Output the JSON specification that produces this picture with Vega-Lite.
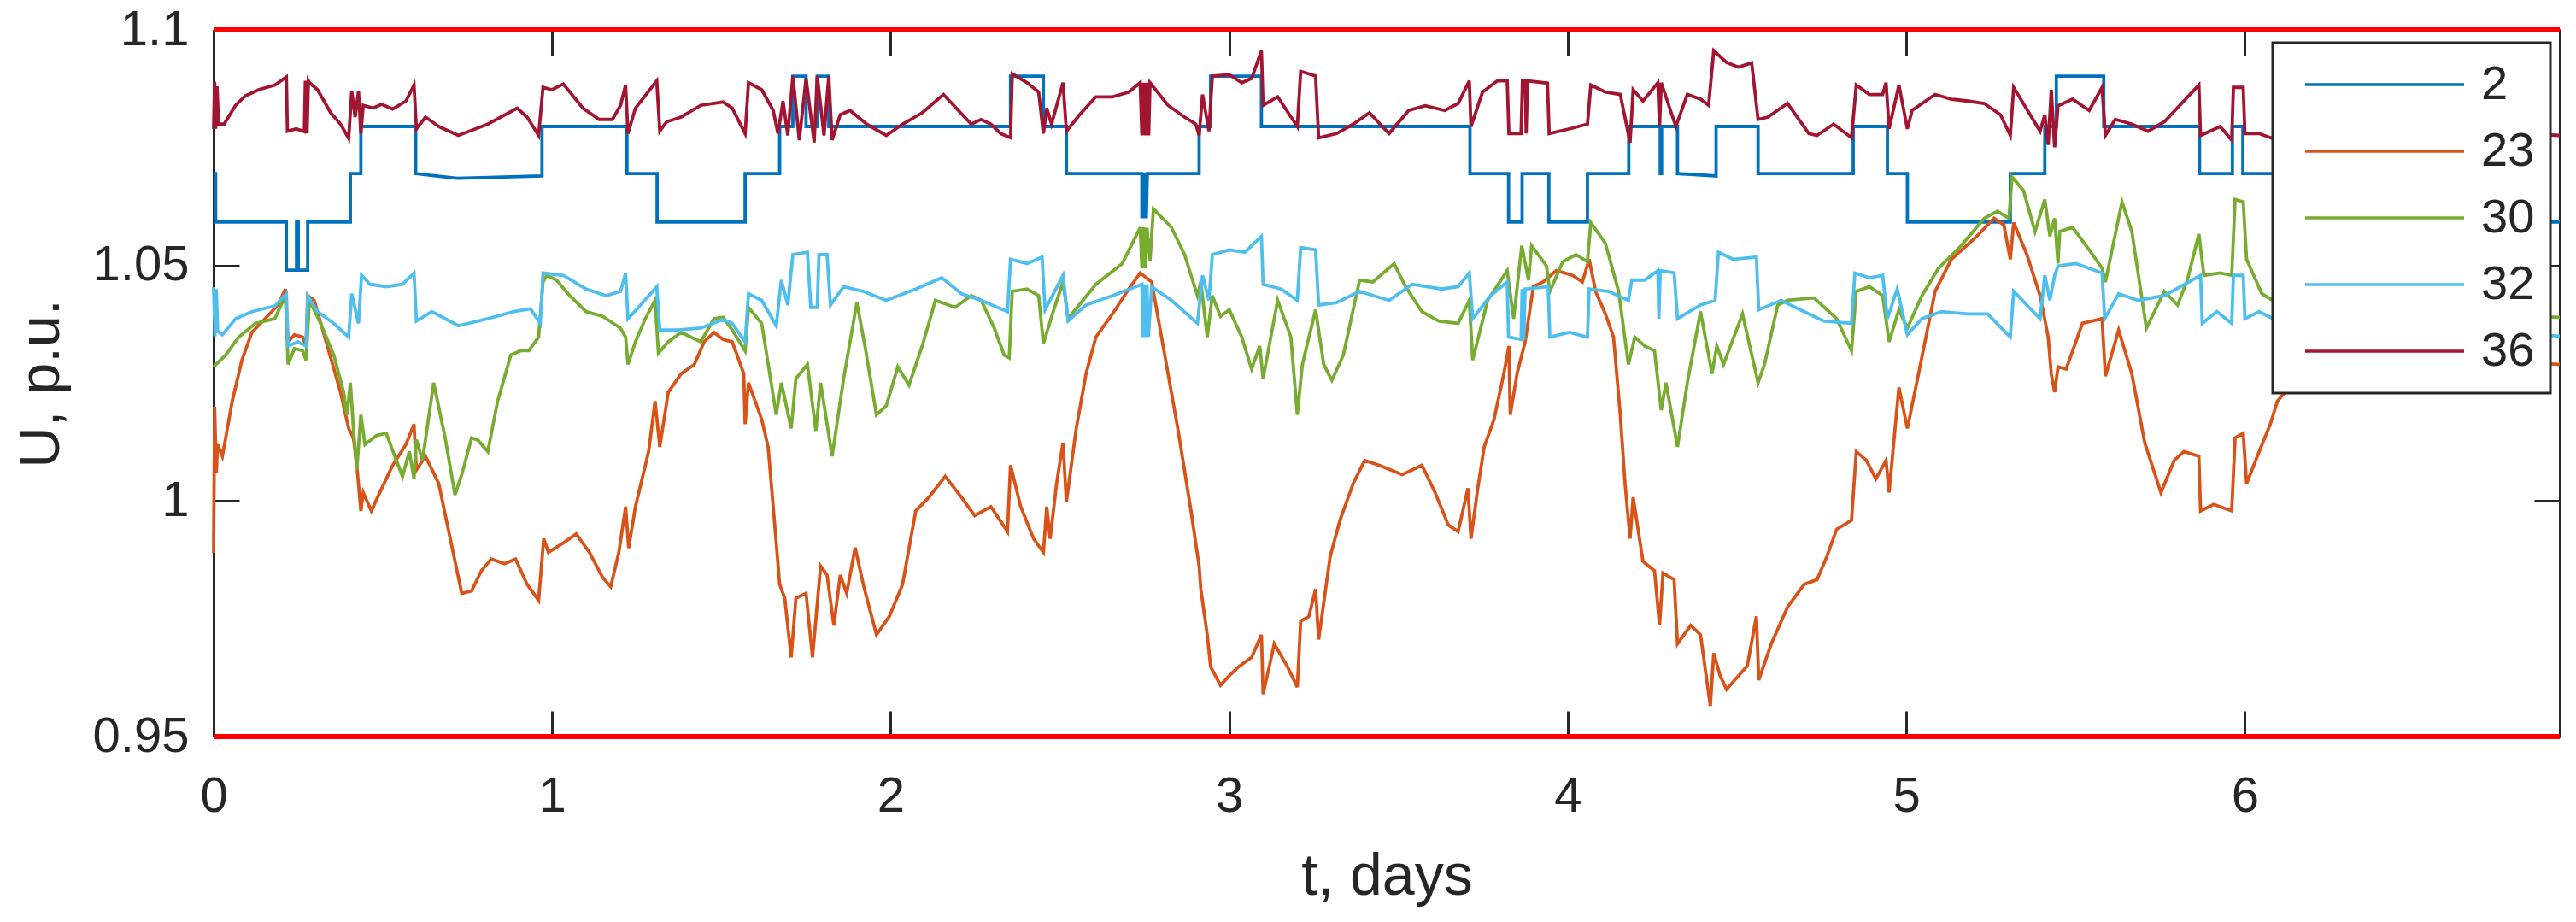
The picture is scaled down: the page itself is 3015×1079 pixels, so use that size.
{
  "$schema": "https://vega.github.io/schema/vega-lite/v6.json",
  "width": 2746,
  "height": 827,
  "autosize": {"type": "none"},
  "padding": {"left": 250, "top": 35, "right": 19, "bottom": 217},
  "background": "white",
  "config": {
    "view": {"stroke": null},
    "font": "Liberation Sans",
    "legend": {"strokeWidth": 3}
  },
  "datasets": {
    "limits": [{"limit": 0.95}, {"limit": 1.1}],
    "voltage": [
      {"s":"2","t":0,"u":1.0695},{"s":"2","t":0.006,"u":1.0695},{"s":"2","t":0.006,"u":1.0592},{"s":"2","t":0.215,"u":1.0592},
      {"s":"2","t":0.215,"u":1.049},{"s":"2","t":0.245,"u":1.049},{"s":"2","t":0.245,"u":1.0592},{"s":"2","t":0.25,"u":1.0592},
      {"s":"2","t":0.25,"u":1.049},{"s":"2","t":0.278,"u":1.049},{"s":"2","t":0.278,"u":1.0592},{"s":"2","t":0.404,"u":1.0592},
      {"s":"2","t":0.404,"u":1.0695},{"s":"2","t":0.435,"u":1.0695},{"s":"2","t":0.435,"u":1.0795},{"s":"2","t":0.597,"u":1.0795},
      {"s":"2","t":0.597,"u":1.0695},{"s":"2","t":0.72,"u":1.0685},{"s":"2","t":0.97,"u":1.069},{"s":"2","t":0.97,"u":1.0795},
      {"s":"2","t":1.221,"u":1.0795},{"s":"2","t":1.221,"u":1.0695},{"s":"2","t":1.31,"u":1.0695},{"s":"2","t":1.31,"u":1.0592},
      {"s":"2","t":1.57,"u":1.0592},{"s":"2","t":1.57,"u":1.0695},{"s":"2","t":1.672,"u":1.0695},{"s":"2","t":1.672,"u":1.0795},
      {"s":"2","t":1.711,"u":1.0795},{"s":"2","t":1.711,"u":1.0902},{"s":"2","t":1.75,"u":1.0902},{"s":"2","t":1.75,"u":1.0795},
      {"s":"2","t":1.783,"u":1.0795},{"s":"2","t":1.783,"u":1.0902},{"s":"2","t":1.817,"u":1.0902},{"s":"2","t":1.817,"u":1.0795},
      {"s":"2","t":2.354,"u":1.0795},{"s":"2","t":2.354,"u":1.0902},{"s":"2","t":2.451,"u":1.0902},{"s":"2","t":2.451,"u":1.0795},
      {"s":"2","t":2.519,"u":1.0795},{"s":"2","t":2.519,"u":1.0695},{"s":"2","t":2.742,"u":1.0695},{"s":"2","t":2.742,"u":1.06},
      {"s":"2","t":2.745,"u":1.0695},{"s":"2","t":2.748,"u":1.06},{"s":"2","t":2.752,"u":1.0695},{"s":"2","t":2.755,"u":1.06},
      {"s":"2","t":2.758,"u":1.0695},{"s":"2","t":2.911,"u":1.0695},{"s":"2","t":2.911,"u":1.0795},{"s":"2","t":2.945,"u":1.0795},
      {"s":"2","t":2.945,"u":1.0902},{"s":"2","t":3.095,"u":1.0902},{"s":"2","t":3.095,"u":1.0795},{"s":"2","t":3.711,"u":1.0795},
      {"s":"2","t":3.711,"u":1.0695},{"s":"2","t":3.825,"u":1.0695},{"s":"2","t":3.825,"u":1.0592},{"s":"2","t":3.865,"u":1.0592},
      {"s":"2","t":3.865,"u":1.0695},{"s":"2","t":3.944,"u":1.0695},{"s":"2","t":3.944,"u":1.0592},{"s":"2","t":4.058,"u":1.0592},
      {"s":"2","t":4.058,"u":1.0695},{"s":"2","t":4.18,"u":1.0695},{"s":"2","t":4.18,"u":1.0795},{"s":"2","t":4.273,"u":1.0795},
      {"s":"2","t":4.273,"u":1.0695},{"s":"2","t":4.277,"u":1.0695},{"s":"2","t":4.277,"u":1.0795},{"s":"2","t":4.324,"u":1.0795},
      {"s":"2","t":4.324,"u":1.0695},{"s":"2","t":4.438,"u":1.069},{"s":"2","t":4.438,"u":1.0795},{"s":"2","t":4.562,"u":1.0795},
      {"s":"2","t":4.562,"u":1.0695},{"s":"2","t":4.843,"u":1.0695},{"s":"2","t":4.843,"u":1.0795},{"s":"2","t":4.944,"u":1.0795},
      {"s":"2","t":4.944,"u":1.0695},{"s":"2","t":5.003,"u":1.0695},{"s":"2","t":5.003,"u":1.0592},{"s":"2","t":5.307,"u":1.0592},
      {"s":"2","t":5.307,"u":1.0695},{"s":"2","t":5.409,"u":1.0695},{"s":"2","t":5.409,"u":1.0795},{"s":"2","t":5.443,"u":1.0795},
      {"s":"2","t":5.443,"u":1.0902},{"s":"2","t":5.583,"u":1.0902},{"s":"2","t":5.583,"u":1.0795},{"s":"2","t":5.866,"u":1.0795},
      {"s":"2","t":5.866,"u":1.0695},{"s":"2","t":5.963,"u":1.0695},{"s":"2","t":5.963,"u":1.0795},{"s":"2","t":5.994,"u":1.0795},
      {"s":"2","t":5.994,"u":1.0695},{"s":"2","t":6.4,"u":1.0695},{"s":"2","t":6.4,"u":1.0592},{"s":"2","t":6.93,"u":1.0592},

      {"s":"23","t":0,"u":0.989},{"s":"23","t":0.003,"u":1.02},{"s":"23","t":0.008,"u":1.006},{"s":"23","t":0.012,"u":1.012},
      {"s":"23","t":0.026,"u":1.0095},{"s":"23","t":0.055,"u":1.0212},{"s":"23","t":0.084,"u":1.03},{"s":"23","t":0.113,"u":1.0358},
      {"s":"23","t":0.152,"u":1.0387},{"s":"23","t":0.19,"u":1.0416},{"s":"23","t":0.212,"u":1.045},{"s":"23","t":0.22,"u":1.0338},
      {"s":"23","t":0.239,"u":1.0353},{"s":"23","t":0.263,"u":1.0348},{"s":"23","t":0.273,"u":1.0329},{"s":"23","t":0.278,"u":1.0436},
      {"s":"23","t":0.297,"u":1.0426},{"s":"23","t":0.336,"u":1.0329},{"s":"23","t":0.375,"u":1.0231},{"s":"23","t":0.399,"u":1.0154},
      {"s":"23","t":0.413,"u":1.0134},{"s":"23","t":0.423,"u":1.0076},{"s":"23","t":0.435,"u":0.9979},{"s":"23","t":0.442,"u":1.0018},
      {"s":"23","t":0.466,"u":0.9979},{"s":"23","t":0.491,"u":1.0018},{"s":"23","t":0.529,"u":1.0076},{"s":"23","t":0.568,"u":1.012},
      {"s":"23","t":0.592,"u":1.0163},{"s":"23","t":0.599,"u":1.0066},{"s":"23","t":0.626,"u":1.0095},{"s":"23","t":0.665,"u":1.0037},
      {"s":"23","t":0.699,"u":0.992},{"s":"23","t":0.733,"u":0.9804},{"s":"23","t":0.762,"u":0.9809},{"s":"23","t":0.791,"u":0.9852},
      {"s":"23","t":0.82,"u":0.9877},{"s":"23","t":0.859,"u":0.9867},{"s":"23","t":0.892,"u":0.9877},{"s":"23","t":0.926,"u":0.9823},
      {"s":"23","t":0.96,"u":0.9789},{"s":"23","t":0.975,"u":0.992},{"s":"23","t":0.989,"u":0.9891},{"s":"23","t":1.033,"u":0.9911},
      {"s":"23","t":1.071,"u":0.993},{"s":"23","t":1.11,"u":0.9891},{"s":"23","t":1.149,"u":0.9838},{"s":"23","t":1.173,"u":0.9818},
      {"s":"23","t":1.197,"u":0.9891},{"s":"23","t":1.217,"u":0.9988},{"s":"23","t":1.226,"u":0.99},{"s":"23","t":1.246,"u":0.9988},
      {"s":"23","t":1.285,"u":1.0105},{"s":"23","t":1.304,"u":1.0212},{"s":"23","t":1.318,"u":1.0115},{"s":"23","t":1.343,"u":1.0231},
      {"s":"23","t":1.381,"u":1.027},{"s":"23","t":1.42,"u":1.029},{"s":"23","t":1.449,"u":1.0338},{"s":"23","t":1.478,"u":1.0358},
      {"s":"23","t":1.505,"u":1.0343},{"s":"23","t":1.532,"u":1.0338},{"s":"23","t":1.566,"u":1.027},{"s":"23","t":1.57,"u":1.0163},
      {"s":"23","t":1.58,"u":1.0251},{"s":"23","t":1.619,"u":1.0173},{"s":"23","t":1.638,"u":1.0115},{"s":"23","t":1.662,"u":0.991},
      {"s":"23","t":1.672,"u":0.9823},{"s":"23","t":1.687,"u":0.9794},{"s":"23","t":1.706,"u":0.9668},{"s":"23","t":1.72,"u":0.9794},
      {"s":"23","t":1.75,"u":0.9804},{"s":"23","t":1.769,"u":0.9668},{"s":"23","t":1.793,"u":0.9862},{"s":"23","t":1.812,"u":0.9843},
      {"s":"23","t":1.832,"u":0.9736},{"s":"23","t":1.851,"u":0.9843},{"s":"23","t":1.87,"u":0.9804},{"s":"23","t":1.895,"u":0.9901},
      {"s":"23","t":1.919,"u":0.9823},{"s":"23","t":1.958,"u":0.9716},{"s":"23","t":1.996,"u":0.9755},{"s":"23","t":2.035,"u":0.9823},
      {"s":"23","t":2.074,"u":0.9979},{"s":"23","t":2.113,"u":1.0008},{"s":"23","t":2.161,"u":1.0052},{"s":"23","t":2.209,"u":1.0008},
      {"s":"23","t":2.248,"u":0.9969},{"s":"23","t":2.296,"u":0.9988},{"s":"23","t":2.345,"u":0.9935},{"s":"23","t":2.354,"u":1.0076},
      {"s":"23","t":2.384,"u":0.9988},{"s":"23","t":2.422,"u":0.992},{"s":"23","t":2.451,"u":0.9891},{"s":"23","t":2.461,"u":0.9988},
      {"s":"23","t":2.471,"u":0.992},{"s":"23","t":2.49,"u":1.0037},{"s":"23","t":2.509,"u":1.0124},{"s":"23","t":2.519,"u":0.9998},
      {"s":"23","t":2.548,"u":1.0154},{"s":"23","t":2.577,"u":1.027},{"s":"23","t":2.606,"u":1.0348},{"s":"23","t":2.655,"u":1.0397},
      {"s":"23","t":2.703,"u":1.045},{"s":"23","t":2.737,"u":1.0484},{"s":"23","t":2.771,"u":1.0465},{"s":"23","t":2.8,"u":1.0348},
      {"s":"23","t":2.848,"u":1.0154},{"s":"23","t":2.887,"u":0.9979},{"s":"23","t":2.911,"u":0.9862},{"s":"23","t":2.916,"u":0.9813},
      {"s":"23","t":2.935,"u":0.9716},{"s":"23","t":2.945,"u":0.9648},{"s":"23","t":2.974,"u":0.9609},{"s":"23","t":3.0,"u":0.9629},
      {"s":"23","t":3.027,"u":0.9648},{"s":"23","t":3.066,"u":0.9668},{"s":"23","t":3.095,"u":0.9716},{"s":"23","t":3.1,"u":0.959},
      {"s":"23","t":3.133,"u":0.9697},{"s":"23","t":3.172,"u":0.9648},{"s":"23","t":3.201,"u":0.9605},{"s":"23","t":3.211,"u":0.9745},
      {"s":"23","t":3.235,"u":0.9755},{"s":"23","t":3.255,"u":0.9813},{"s":"23","t":3.264,"u":0.9706},{"s":"23","t":3.298,"u":0.9882},
      {"s":"23","t":3.327,"u":0.9959},{"s":"23","t":3.366,"u":1.0037},{"s":"23","t":3.4,"u":1.0086},{"s":"23","t":3.443,"u":1.0076},
      {"s":"23","t":3.511,"u":1.0056},{"s":"23","t":3.569,"u":1.0076},{"s":"23","t":3.608,"u":1.0018},{"s":"23","t":3.647,"u":0.9949},
      {"s":"23","t":3.676,"u":0.9935},{"s":"23","t":3.705,"u":1.0027},{"s":"23","t":3.714,"u":0.992},{"s":"23","t":3.734,"u":1.0027},
      {"s":"23","t":3.753,"u":1.0115},{"s":"23","t":3.782,"u":1.0173},{"s":"23","t":3.811,"u":1.027},{"s":"23","t":3.826,"u":1.0329},
      {"s":"23","t":3.83,"u":1.0183},{"s":"23","t":3.85,"u":1.027},{"s":"23","t":3.874,"u":1.0338},{"s":"23","t":3.898,"u":1.0455},
      {"s":"23","t":3.927,"u":1.0465},{"s":"23","t":3.966,"u":1.0489},{"s":"23","t":4.014,"u":1.0479},{"s":"23","t":4.043,"u":1.0465},
      {"s":"23","t":4.063,"u":1.0513},{"s":"23","t":4.082,"u":1.0445},{"s":"23","t":4.111,"u":1.0397},{"s":"23","t":4.135,"u":1.0348},
      {"s":"23","t":4.155,"u":1.0183},{"s":"23","t":4.169,"u":1.0037},{"s":"23","t":4.184,"u":0.992},{"s":"23","t":4.193,"u":1.0008},
      {"s":"23","t":4.222,"u":0.9872},{"s":"23","t":4.256,"u":0.9852},{"s":"23","t":4.271,"u":0.9736},{"s":"23","t":4.281,"u":0.9847},
      {"s":"23","t":4.314,"u":0.9833},{"s":"23","t":4.324,"u":0.9697},{"s":"23","t":4.363,"u":0.9736},{"s":"23","t":4.392,"u":0.9716},
      {"s":"23","t":4.421,"u":0.9565},{"s":"23","t":4.431,"u":0.9677},{"s":"23","t":4.45,"u":0.9629},{"s":"23","t":4.469,"u":0.96},
      {"s":"23","t":4.504,"u":0.9629},{"s":"23","t":4.53,"u":0.965},{"s":"23","t":4.557,"u":0.9755},{"s":"23","t":4.564,"u":0.962},
      {"s":"23","t":4.601,"u":0.9697},{"s":"23","t":4.649,"u":0.9775},{"s":"23","t":4.698,"u":0.9823},{"s":"23","t":4.736,"u":0.9833},
      {"s":"23","t":4.765,"u":0.9882},{"s":"23","t":4.794,"u":0.994},{"s":"23","t":4.838,"u":0.9959},{"s":"23","t":4.852,"u":1.0105},
      {"s":"23","t":4.882,"u":1.0086},{"s":"23","t":4.91,"u":1.0047},{"s":"23","t":4.94,"u":1.0086},{"s":"23","t":4.949,"u":1.0018},
      {"s":"23","t":4.978,"u":1.0241},{"s":"23","t":5.003,"u":1.0154},{"s":"23","t":5.036,"u":1.027},{"s":"23","t":5.085,"u":1.0445},
      {"s":"23","t":5.133,"u":1.0513},{"s":"23","t":5.201,"u":1.0557},{"s":"23","t":5.259,"u":1.06},{"s":"23","t":5.288,"u":1.0586},
      {"s":"23","t":5.307,"u":1.0513},{"s":"23","t":5.317,"u":1.0591},{"s":"23","t":5.356,"u":1.0523},{"s":"23","t":5.395,"u":1.0436},
      {"s":"23","t":5.419,"u":1.0348},{"s":"23","t":5.428,"u":1.027},{"s":"23","t":5.438,"u":1.0231},{"s":"23","t":5.448,"u":1.0285},
      {"s":"23","t":5.472,"u":1.028},{"s":"23","t":5.52,"u":1.0377},{"s":"23","t":5.578,"u":1.0387},{"s":"23","t":5.588,"u":1.0265},
      {"s":"23","t":5.627,"u":1.0363},{"s":"23","t":5.666,"u":1.027},{"s":"23","t":5.704,"u":1.0124},{"s":"23","t":5.752,"u":1.0018},
      {"s":"23","t":5.791,"u":1.0086},{"s":"23","t":5.82,"u":1.0105},{"s":"23","t":5.864,"u":1.0095},{"s":"23","t":5.869,"u":0.9979},
      {"s":"23","t":5.908,"u":0.9993},{"s":"23","t":5.961,"u":0.9979},{"s":"23","t":5.971,"u":1.0134},{"s":"23","t":5.995,"u":1.0144},
      {"s":"23","t":6.005,"u":1.0037},{"s":"23","t":6.042,"u":1.0105},{"s":"23","t":6.075,"u":1.0163},{"s":"23","t":6.096,"u":1.0212},
      {"s":"23","t":6.2,"u":1.03},{"s":"23","t":6.4,"u":1.035},{"s":"23","t":6.6,"u":1.03},{"s":"23","t":6.93,"u":1.029},

      {"s":"30","t":0,"u":1.0285},{"s":"30","t":0.036,"u":1.031},{"s":"30","t":0.074,"u":1.0348},{"s":"30","t":0.123,"u":1.0377},
      {"s":"30","t":0.181,"u":1.0387},{"s":"30","t":0.212,"u":1.0436},{"s":"30","t":0.22,"u":1.029},{"s":"30","t":0.239,"u":1.0324},
      {"s":"30","t":0.263,"u":1.0319},{"s":"30","t":0.273,"u":1.0299},{"s":"30","t":0.283,"u":1.0426},{"s":"30","t":0.316,"u":1.0377},
      {"s":"30","t":0.355,"u":1.031},{"s":"30","t":0.384,"u":1.0231},{"s":"30","t":0.394,"u":1.0183},{"s":"30","t":0.404,"u":1.0251},
      {"s":"30","t":0.413,"u":1.0154},{"s":"30","t":0.423,"u":1.0066},{"s":"30","t":0.435,"u":1.0183},{"s":"30","t":0.447,"u":1.012},
      {"s":"30","t":0.481,"u":1.0139},{"s":"30","t":0.51,"u":1.0144},{"s":"30","t":0.53,"u":1.0105},{"s":"30","t":0.558,"u":1.0052},
      {"s":"30","t":0.578,"u":1.0105},{"s":"30","t":0.592,"u":1.0047},{"s":"30","t":0.599,"u":1.013},{"s":"30","t":0.617,"u":1.0086},
      {"s":"30","t":0.65,"u":1.0251},{"s":"30","t":0.684,"u":1.0134},{"s":"30","t":0.713,"u":1.0013},{"s":"30","t":0.733,"u":1.0056},
      {"s":"30","t":0.762,"u":1.0134},{"s":"30","t":0.781,"u":1.0129},{"s":"30","t":0.81,"u":1.0105},{"s":"30","t":0.839,"u":1.0212},
      {"s":"30","t":0.878,"u":1.031},{"s":"30","t":0.907,"u":1.0319},{"s":"30","t":0.931,"u":1.0319},{"s":"30","t":0.96,"u":1.0348},
      {"s":"30","t":0.973,"u":1.0465},{"s":"30","t":0.984,"u":1.0479},{"s":"30","t":1.013,"u":1.0469},{"s":"30","t":1.052,"u":1.0436},
      {"s":"30","t":1.1,"u":1.0402},{"s":"30","t":1.149,"u":1.0392},{"s":"30","t":1.202,"u":1.0367},{"s":"30","t":1.217,"u":1.0348},
      {"s":"30","t":1.224,"u":1.029},{"s":"30","t":1.246,"u":1.0338},{"s":"30","t":1.275,"u":1.0387},{"s":"30","t":1.304,"u":1.0426},
      {"s":"30","t":1.314,"u":1.0314},{"s":"30","t":1.343,"u":1.0338},{"s":"30","t":1.381,"u":1.0358},{"s":"30","t":1.439,"u":1.0338},
      {"s":"30","t":1.478,"u":1.0387},{"s":"30","t":1.505,"u":1.039},{"s":"30","t":1.532,"u":1.0363},{"s":"30","t":1.57,"u":1.0319},
      {"s":"30","t":1.58,"u":1.0411},{"s":"30","t":1.619,"u":1.0377},{"s":"30","t":1.662,"u":1.0183},{"s":"30","t":1.677,"u":1.0251},
      {"s":"30","t":1.706,"u":1.0154},{"s":"30","t":1.72,"u":1.026},{"s":"30","t":1.754,"u":1.029},{"s":"30","t":1.779,"u":1.0149},
      {"s":"30","t":1.793,"u":1.0251},{"s":"30","t":1.827,"u":1.0095},{"s":"30","t":1.861,"u":1.026},{"s":"30","t":1.9,"u":1.0421},
      {"s":"30","t":1.924,"u":1.0329},{"s":"30","t":1.958,"u":1.0183},{"s":"30","t":1.987,"u":1.0202},{"s":"30","t":2.021,"u":1.0285},
      {"s":"30","t":2.054,"u":1.0246},{"s":"30","t":2.093,"u":1.0329},{"s":"30","t":2.132,"u":1.0426},{"s":"30","t":2.19,"u":1.0411},
      {"s":"30","t":2.238,"u":1.0436},{"s":"30","t":2.267,"u":1.0426},{"s":"30","t":2.306,"u":1.0367},{"s":"30","t":2.335,"u":1.031},
      {"s":"30","t":2.35,"u":1.0304},{"s":"30","t":2.359,"u":1.0445},{"s":"30","t":2.403,"u":1.045},{"s":"30","t":2.437,"u":1.0436},
      {"s":"30","t":2.451,"u":1.0334},{"s":"30","t":2.48,"u":1.0402},{"s":"30","t":2.509,"u":1.0465},{"s":"30","t":2.524,"u":1.0387},
      {"s":"30","t":2.606,"u":1.046},{"s":"30","t":2.684,"u":1.0504},{"s":"30","t":2.737,"u":1.0581},{"s":"30","t":2.742,"u":1.0494},
      {"s":"30","t":2.747,"u":1.0581},{"s":"30","t":2.752,"u":1.0494},{"s":"30","t":2.757,"u":1.058},{"s":"30","t":2.766,"u":1.051},
      {"s":"30","t":2.776,"u":1.062},{"s":"30","t":2.829,"u":1.0581},{"s":"30","t":2.868,"u":1.0523},{"s":"30","t":2.906,"u":1.0436},
      {"s":"30","t":2.916,"u":1.0465},{"s":"30","t":2.935,"u":1.0348},{"s":"30","t":2.95,"u":1.0436},{"s":"30","t":2.974,"u":1.0392},
      {"s":"30","t":3.0,"u":1.0406},{"s":"30","t":3.037,"u":1.0348},{"s":"30","t":3.066,"u":1.028},{"s":"30","t":3.09,"u":1.0329},
      {"s":"30","t":3.1,"u":1.026},{"s":"30","t":3.143,"u":1.0426},{"s":"30","t":3.182,"u":1.0348},{"s":"30","t":3.201,"u":1.0183},
      {"s":"30","t":3.216,"u":1.029},{"s":"30","t":3.255,"u":1.0406},{"s":"30","t":3.279,"u":1.029},{"s":"30","t":3.303,"u":1.0256},
      {"s":"30","t":3.337,"u":1.031},{"s":"30","t":3.385,"u":1.0469},{"s":"30","t":3.424,"u":1.0465},{"s":"30","t":3.487,"u":1.0504},
      {"s":"30","t":3.521,"u":1.0455},{"s":"30","t":3.569,"u":1.0402},{"s":"30","t":3.618,"u":1.0382},{"s":"30","t":3.676,"u":1.0377},
      {"s":"30","t":3.709,"u":1.0426},{"s":"30","t":3.719,"u":1.0299},{"s":"30","t":3.763,"u":1.0426},{"s":"30","t":3.821,"u":1.0489},
      {"s":"30","t":3.84,"u":1.0387},{"s":"30","t":3.864,"u":1.0542},{"s":"30","t":3.884,"u":1.0469},{"s":"30","t":3.893,"u":1.0542},
      {"s":"30","t":3.937,"u":1.0499},{"s":"30","t":3.947,"u":1.0445},{"s":"30","t":3.985,"u":1.0508},{"s":"30","t":4.024,"u":1.0523},
      {"s":"30","t":4.058,"u":1.0508},{"s":"30","t":4.068,"u":1.0591},{"s":"30","t":4.111,"u":1.0547},{"s":"30","t":4.15,"u":1.0445},
      {"s":"30","t":4.179,"u":1.029},{"s":"30","t":4.198,"u":1.0348},{"s":"30","t":4.227,"u":1.0329},{"s":"30","t":4.256,"u":1.0319},
      {"s":"30","t":4.276,"u":1.0193},{"s":"30","t":4.29,"u":1.0251},{"s":"30","t":4.324,"u":1.0115},{"s":"30","t":4.353,"u":1.0251},
      {"s":"30","t":4.392,"u":1.0402},{"s":"30","t":4.426,"u":1.027},{"s":"30","t":4.44,"u":1.0329},{"s":"30","t":4.46,"u":1.029},
      {"s":"30","t":4.516,"u":1.0397},{"s":"30","t":4.562,"u":1.0251},{"s":"30","t":4.581,"u":1.029},{"s":"30","t":4.62,"u":1.0416},
      {"s":"30","t":4.649,"u":1.0426},{"s":"30","t":4.727,"u":1.0431},{"s":"30","t":4.794,"u":1.0387},{"s":"30","t":4.838,"u":1.0319},
      {"s":"30","t":4.852,"u":1.0445},{"s":"30","t":4.891,"u":1.0455},{"s":"30","t":4.93,"u":1.0436},{"s":"30","t":4.949,"u":1.0338},
      {"s":"30","t":4.978,"u":1.0406},{"s":"30","t":5.003,"u":1.0367},{"s":"30","t":5.046,"u":1.0436},{"s":"30","t":5.095,"u":1.0494},
      {"s":"30","t":5.162,"u":1.0542},{"s":"30","t":5.23,"u":1.06},{"s":"30","t":5.269,"u":1.0615},{"s":"30","t":5.303,"u":1.06},
      {"s":"30","t":5.312,"u":1.0688},{"s":"30","t":5.346,"u":1.0659},{"s":"30","t":5.38,"u":1.0572},{"s":"30","t":5.409,"u":1.064},
      {"s":"30","t":5.424,"u":1.0562},{"s":"30","t":5.438,"u":1.06},{"s":"30","t":5.448,"u":1.0504},{"s":"30","t":5.453,"u":1.0572},
      {"s":"30","t":5.491,"u":1.0581},{"s":"30","t":5.54,"u":1.0533},{"s":"30","t":5.578,"u":1.0494},{"s":"30","t":5.588,"u":1.0465},
      {"s":"30","t":5.637,"u":1.0635},{"s":"30","t":5.666,"u":1.0572},{"s":"30","t":5.709,"u":1.0367},{"s":"30","t":5.762,"u":1.0445},
      {"s":"30","t":5.801,"u":1.0416},{"s":"30","t":5.83,"u":1.0469},{"s":"30","t":5.864,"u":1.0567},{"s":"30","t":5.879,"u":1.0479},
      {"s":"30","t":5.927,"u":1.0484},{"s":"30","t":5.961,"u":1.0479},{"s":"30","t":5.971,"u":1.064},{"s":"30","t":5.995,"u":1.0635},
      {"s":"30","t":6.005,"u":1.0513},{"s":"30","t":6.05,"u":1.044},{"s":"30","t":6.096,"u":1.042},{"s":"30","t":6.5,"u":1.04},
      {"s":"30","t":6.93,"u":1.039},

      {"s":"32","t":0,"u":1.0454},{"s":"32","t":0.004,"u":1.035},{"s":"32","t":0.008,"u":1.045},{"s":"32","t":0.012,"u":1.036},
      {"s":"32","t":0.026,"u":1.0353},{"s":"32","t":0.065,"u":1.0387},{"s":"32","t":0.113,"u":1.0402},{"s":"32","t":0.181,"u":1.0414},
      {"s":"32","t":0.215,"u":1.044},{"s":"32","t":0.22,"u":1.0329},{"s":"32","t":0.249,"u":1.0338},{"s":"32","t":0.273,"u":1.0329},
      {"s":"32","t":0.278,"u":1.0436},{"s":"32","t":0.307,"u":1.0402},{"s":"32","t":0.355,"u":1.0377},{"s":"32","t":0.399,"u":1.0348},
      {"s":"32","t":0.408,"u":1.044},{"s":"32","t":0.428,"u":1.0377},{"s":"32","t":0.437,"u":1.0479},{"s":"32","t":0.462,"u":1.046},
      {"s":"32","t":0.51,"u":1.0455},{"s":"32","t":0.558,"u":1.046},{"s":"32","t":0.592,"u":1.0484},{"s":"32","t":0.599,"u":1.0382},
      {"s":"32","t":0.645,"u":1.0402},{"s":"32","t":0.723,"u":1.0372},{"s":"32","t":0.81,"u":1.0387},{"s":"32","t":0.887,"u":1.0402},
      {"s":"32","t":0.936,"u":1.0408},{"s":"32","t":0.965,"u":1.0377},{"s":"32","t":0.973,"u":1.0484},{"s":"32","t":1.033,"u":1.0479},
      {"s":"32","t":1.1,"u":1.045},{"s":"32","t":1.159,"u":1.0436},{"s":"32","t":1.202,"u":1.0445},{"s":"32","t":1.217,"u":1.0484},
      {"s":"32","t":1.224,"u":1.0387},{"s":"32","t":1.255,"u":1.0411},{"s":"32","t":1.309,"u":1.0455},{"s":"32","t":1.318,"u":1.0363},
      {"s":"32","t":1.372,"u":1.0363},{"s":"32","t":1.439,"u":1.0367},{"s":"32","t":1.505,"u":1.0385},{"s":"32","t":1.532,"u":1.0377},
      {"s":"32","t":1.57,"u":1.0338},{"s":"32","t":1.58,"u":1.044},{"s":"32","t":1.619,"u":1.0426},{"s":"32","t":1.662,"u":1.0372},
      {"s":"32","t":1.677,"u":1.0469},{"s":"32","t":1.696,"u":1.0416},{"s":"32","t":1.711,"u":1.0523},{"s":"32","t":1.754,"u":1.0528},
      {"s":"32","t":1.764,"u":1.0411},{"s":"32","t":1.783,"u":1.0411},{"s":"32","t":1.788,"u":1.0523},{"s":"32","t":1.812,"u":1.0523},
      {"s":"32","t":1.822,"u":1.0416},{"s":"32","t":1.861,"u":1.0455},{"s":"32","t":1.919,"u":1.0445},{"s":"32","t":1.987,"u":1.0426},
      {"s":"32","t":2.074,"u":1.045},{"s":"32","t":2.151,"u":1.0474},{"s":"32","t":2.209,"u":1.044},{"s":"32","t":2.267,"u":1.0426},
      {"s":"32","t":2.345,"u":1.0402},{"s":"32","t":2.354,"u":1.0513},{"s":"32","t":2.403,"u":1.0504},{"s":"32","t":2.447,"u":1.0518},
      {"s":"32","t":2.456,"u":1.0406},{"s":"32","t":2.509,"u":1.0479},{"s":"32","t":2.524,"u":1.0382},{"s":"32","t":2.577,"u":1.0416},
      {"s":"32","t":2.655,"u":1.0436},{"s":"32","t":2.742,"u":1.046},{"s":"32","t":2.745,"u":1.0348},{"s":"32","t":2.749,"u":1.046},
      {"s":"32","t":2.753,"u":1.0348},{"s":"32","t":2.757,"u":1.046},{"s":"32","t":2.761,"u":1.0348},{"s":"32","t":2.771,"u":1.0455},
      {"s":"32","t":2.829,"u":1.0426},{"s":"32","t":2.906,"u":1.0377},{"s":"32","t":2.921,"u":1.0479},{"s":"32","t":2.94,"u":1.0426},
      {"s":"32","t":2.95,"u":1.0523},{"s":"32","t":3.0,"u":1.0533},{"s":"32","t":3.046,"u":1.0528},{"s":"32","t":3.095,"u":1.0562},
      {"s":"32","t":3.1,"u":1.046},{"s":"32","t":3.153,"u":1.045},{"s":"32","t":3.201,"u":1.0426},{"s":"32","t":3.211,"u":1.0538},
      {"s":"32","t":3.255,"u":1.0533},{"s":"32","t":3.264,"u":1.0416},{"s":"32","t":3.317,"u":1.0421},{"s":"32","t":3.385,"u":1.0445},
      {"s":"32","t":3.472,"u":1.0426},{"s":"32","t":3.54,"u":1.046},{"s":"32","t":3.627,"u":1.045},{"s":"32","t":3.676,"u":1.0455},
      {"s":"32","t":3.709,"u":1.0484},{"s":"32","t":3.719,"u":1.0387},{"s":"32","t":3.772,"u":1.0436},{"s":"32","t":3.821,"u":1.0465},
      {"s":"32","t":3.825,"u":1.0348},{"s":"32","t":3.862,"u":1.0343},{"s":"32","t":3.865,"u":1.045},{"s":"32","t":3.87,"u":1.0343},
      {"s":"32","t":3.874,"u":1.045},{"s":"32","t":3.942,"u":1.0455},{"s":"32","t":3.947,"u":1.0348},{"s":"32","t":4.005,"u":1.0358},
      {"s":"32","t":4.058,"u":1.0348},{"s":"32","t":4.063,"u":1.045},{"s":"32","t":4.121,"u":1.0445},{"s":"32","t":4.179,"u":1.0426},
      {"s":"32","t":4.189,"u":1.0469},{"s":"32","t":4.227,"u":1.0469},{"s":"32","t":4.266,"u":1.0489},{"s":"32","t":4.269,"u":1.0387},
      {"s":"32","t":4.273,"u":1.0489},{"s":"32","t":4.314,"u":1.0484},{"s":"32","t":4.324,"u":1.0387},{"s":"32","t":4.392,"u":1.0416},
      {"s":"32","t":4.435,"u":1.0426},{"s":"32","t":4.445,"u":1.0528},{"s":"32","t":4.489,"u":1.0513},{"s":"32","t":4.516,"u":1.0515},
      {"s":"32","t":4.557,"u":1.0518},{"s":"32","t":4.564,"u":1.0406},{"s":"32","t":4.63,"u":1.0426},{"s":"32","t":4.698,"u":1.0402},
      {"s":"32","t":4.756,"u":1.0382},{"s":"32","t":4.838,"u":1.0377},{"s":"32","t":4.848,"u":1.0484},{"s":"32","t":4.891,"u":1.0474},
      {"s":"32","t":4.93,"u":1.0479},{"s":"32","t":4.944,"u":1.0387},{"s":"32","t":4.973,"u":1.045},{"s":"32","t":5.003,"u":1.0353},
      {"s":"32","t":5.046,"u":1.0387},{"s":"32","t":5.104,"u":1.0402},{"s":"32","t":5.182,"u":1.0397},{"s":"32","t":5.24,"u":1.0397},
      {"s":"32","t":5.307,"u":1.0348},{"s":"32","t":5.317,"u":1.0445},{"s":"32","t":5.395,"u":1.0387},{"s":"32","t":5.409,"u":1.0479},
      {"s":"32","t":5.424,"u":1.0426},{"s":"32","t":5.438,"u":1.0479},{"s":"32","t":5.448,"u":1.0499},{"s":"32","t":5.501,"u":1.0504},
      {"s":"32","t":5.578,"u":1.0484},{"s":"32","t":5.586,"u":1.0387},{"s":"32","t":5.627,"u":1.044},{"s":"32","t":5.685,"u":1.0426},
      {"s":"32","t":5.762,"u":1.0436},{"s":"32","t":5.869,"u":1.0479},{"s":"32","t":5.874,"u":1.0377},{"s":"32","t":5.917,"u":1.0402},
      {"s":"32","t":5.961,"u":1.0377},{"s":"32","t":5.966,"u":1.0479},{"s":"32","t":5.995,"u":1.0479},{"s":"32","t":6.0,"u":1.0387},
      {"s":"32","t":6.042,"u":1.0402},{"s":"32","t":6.096,"u":1.0382},{"s":"32","t":6.5,"u":1.037},{"s":"32","t":6.93,"u":1.035},

      {"s":"36","t":0,"u":1.079},{"s":"36","t":0.003,"u":1.089},{"s":"36","t":0.006,"u":1.079},{"s":"36","t":0.01,"u":1.088},
      {"s":"36","t":0.015,"u":1.08},{"s":"36","t":0.031,"u":1.08},{"s":"36","t":0.065,"u":1.084},{"s":"36","t":0.094,"u":1.086},
      {"s":"36","t":0.133,"u":1.0873},{"s":"36","t":0.181,"u":1.0883},{"s":"36","t":0.215,"u":1.09},{"s":"36","t":0.218,"u":1.0785},
      {"s":"36","t":0.244,"u":1.079},{"s":"36","t":0.268,"u":1.0784},{"s":"36","t":0.271,"u":1.0892},{"s":"36","t":0.276,"u":1.078},
      {"s":"36","t":0.28,"u":1.0892},{"s":"36","t":0.283,"u":1.0888},{"s":"36","t":0.307,"u":1.0873},{"s":"36","t":0.346,"u":1.0824},
      {"s":"36","t":0.375,"u":1.08},{"s":"36","t":0.399,"u":1.077},{"s":"36","t":0.408,"u":1.087},{"s":"36","t":0.418,"u":1.0815},
      {"s":"36","t":0.428,"u":1.087},{"s":"36","t":0.435,"u":1.078},{"s":"36","t":0.442,"u":1.084},{"s":"36","t":0.471,"u":1.0834},
      {"s":"36","t":0.496,"u":1.0842},{"s":"36","t":0.529,"u":1.0832},{"s":"36","t":0.568,"u":1.0849},{"s":"36","t":0.592,"u":1.0883},
      {"s":"36","t":0.599,"u":1.079},{"s":"36","t":0.626,"u":1.0815},{"s":"36","t":0.665,"u":1.0795},{"s":"36","t":0.723,"u":1.0776},
      {"s":"36","t":0.81,"u":1.08},{"s":"36","t":0.897,"u":1.0834},{"s":"36","t":0.926,"u":1.0815},{"s":"36","t":0.96,"u":1.0776},
      {"s":"36","t":0.973,"u":1.0878},{"s":"36","t":0.999,"u":1.0873},{"s":"36","t":1.033,"u":1.0885},{"s":"36","t":1.091,"u":1.0834},
      {"s":"36","t":1.139,"u":1.081},{"s":"36","t":1.178,"u":1.081},{"s":"36","t":1.202,"u":1.084},{"s":"36","t":1.217,"u":1.0883},
      {"s":"36","t":1.224,"u":1.078},{"s":"36","t":1.246,"u":1.0834},{"s":"36","t":1.309,"u":1.0892},{"s":"36","t":1.318,"u":1.0785},
      {"s":"36","t":1.338,"u":1.0805},{"s":"36","t":1.381,"u":1.0815},{"s":"36","t":1.439,"u":1.084},{"s":"36","t":1.505,"u":1.0847},
      {"s":"36","t":1.532,"u":1.0834},{"s":"36","t":1.57,"u":1.078},{"s":"36","t":1.58,"u":1.0888},{"s":"36","t":1.619,"u":1.0873},
      {"s":"36","t":1.653,"u":1.0829},{"s":"36","t":1.667,"u":1.078},{"s":"36","t":1.682,"u":1.0849},{"s":"36","t":1.696,"u":1.0776},
      {"s":"36","t":1.711,"u":1.0902},{"s":"36","t":1.73,"u":1.0766},{"s":"36","t":1.75,"u":1.0897},{"s":"36","t":1.774,"u":1.0761},
      {"s":"36","t":1.783,"u":1.0902},{"s":"36","t":1.803,"u":1.0776},{"s":"36","t":1.817,"u":1.0902},{"s":"36","t":1.827,"u":1.0766},
      {"s":"36","t":1.851,"u":1.082},{"s":"36","t":1.88,"u":1.0829},{"s":"36","t":1.929,"u":1.08},{"s":"36","t":1.987,"u":1.0776},
      {"s":"36","t":2.035,"u":1.08},{"s":"36","t":2.093,"u":1.0824},{"s":"36","t":2.156,"u":1.0863},{"s":"36","t":2.2,"u":1.0829},
      {"s":"36","t":2.238,"u":1.08},{"s":"36","t":2.267,"u":1.081},{"s":"36","t":2.296,"u":1.08},{"s":"36","t":2.325,"u":1.078},
      {"s":"36","t":2.354,"u":1.0771},{"s":"36","t":2.359,"u":1.0907},{"s":"36","t":2.403,"u":1.0888},{"s":"36","t":2.437,"u":1.0868},
      {"s":"36","t":2.451,"u":1.078},{"s":"36","t":2.461,"u":1.0834},{"s":"36","t":2.475,"u":1.08},{"s":"36","t":2.509,"u":1.0888},
      {"s":"36","t":2.519,"u":1.0785},{"s":"36","t":2.558,"u":1.082},{"s":"36","t":2.606,"u":1.0858},{"s":"36","t":2.655,"u":1.0858},
      {"s":"36","t":2.703,"u":1.0868},{"s":"36","t":2.737,"u":1.0888},{"s":"36","t":2.742,"u":1.0776},{"s":"36","t":2.747,"u":1.0888},
      {"s":"36","t":2.752,"u":1.0776},{"s":"36","t":2.757,"u":1.0888},{"s":"36","t":2.762,"u":1.0776},{"s":"36","t":2.766,"u":1.0888},
      {"s":"36","t":2.819,"u":1.084},{"s":"36","t":2.868,"u":1.0815},{"s":"36","t":2.901,"u":1.08},{"s":"36","t":2.911,"u":1.0776},
      {"s":"36","t":2.921,"u":1.0863},{"s":"36","t":2.94,"u":1.0785},{"s":"36","t":2.95,"u":1.0902},{"s":"36","t":3.0,"u":1.0905},
      {"s":"36","t":3.037,"u":1.0888},{"s":"36","t":3.066,"u":1.0897},{"s":"36","t":3.095,"u":1.0956},{"s":"36","t":3.1,"u":1.084},
      {"s":"36","t":3.143,"u":1.0858},{"s":"36","t":3.201,"u":1.0795},{"s":"36","t":3.211,"u":1.0912},{"s":"36","t":3.255,"u":1.0902},
      {"s":"36","t":3.264,"u":1.0771},{"s":"36","t":3.317,"u":1.078},{"s":"36","t":3.366,"u":1.08},{"s":"36","t":3.414,"u":1.0824},
      {"s":"36","t":3.472,"u":1.078},{"s":"36","t":3.53,"u":1.0829},{"s":"36","t":3.579,"u":1.0839},{"s":"36","t":3.637,"u":1.0829},
      {"s":"36","t":3.676,"u":1.0844},{"s":"36","t":3.709,"u":1.0892},{"s":"36","t":3.714,"u":1.0795},{"s":"36","t":3.748,"u":1.0868},
      {"s":"36","t":3.792,"u":1.0892},{"s":"36","t":3.821,"u":1.0892},{"s":"36","t":3.826,"u":1.078},{"s":"36","t":3.862,"u":1.078},
      {"s":"36","t":3.866,"u":1.0892},{"s":"36","t":3.874,"u":1.0892},{"s":"36","t":3.877,"u":1.078},{"s":"36","t":3.881,"u":1.0892},
      {"s":"36","t":3.94,"u":1.0887},{"s":"36","t":3.945,"u":1.078},{"s":"36","t":4.005,"u":1.079},{"s":"36","t":4.058,"u":1.08},
      {"s":"36","t":4.068,"u":1.0883},{"s":"36","t":4.111,"u":1.0868},{"s":"36","t":4.155,"u":1.0863},{"s":"36","t":4.184,"u":1.0761},
      {"s":"36","t":4.193,"u":1.0873},{"s":"36","t":4.222,"u":1.0849},{"s":"36","t":4.266,"u":1.0888},{"s":"36","t":4.271,"u":1.0795},
      {"s":"36","t":4.276,"u":1.0888},{"s":"36","t":4.319,"u":1.0795},{"s":"36","t":4.353,"u":1.0863},{"s":"36","t":4.392,"u":1.0853},
      {"s":"36","t":4.416,"u":1.084},{"s":"36","t":4.431,"u":1.0956},{"s":"36","t":4.469,"u":1.0931},{"s":"36","t":4.504,"u":1.0921},
      {"s":"36","t":4.543,"u":1.093},{"s":"36","t":4.562,"u":1.081},{"s":"36","t":4.591,"u":1.0815},{"s":"36","t":4.649,"u":1.0844},
      {"s":"36","t":4.712,"u":1.078},{"s":"36","t":4.736,"u":1.0776},{"s":"36","t":4.785,"u":1.08},{"s":"36","t":4.838,"u":1.0771},
      {"s":"36","t":4.852,"u":1.0883},{"s":"36","t":4.891,"u":1.0863},{"s":"36","t":4.93,"u":1.0863},{"s":"36","t":4.94,"u":1.0888},
      {"s":"36","t":4.949,"u":1.079},{"s":"36","t":4.978,"u":1.0883},{"s":"36","t":5.003,"u":1.079},{"s":"36","t":5.017,"u":1.0829},
      {"s":"36","t":5.085,"u":1.0863},{"s":"36","t":5.133,"u":1.0853},{"s":"36","t":5.182,"u":1.0849},{"s":"36","t":5.23,"u":1.0844},
      {"s":"36","t":5.278,"u":1.082},{"s":"36","t":5.307,"u":1.0776},{"s":"36","t":5.317,"u":1.0878},{"s":"36","t":5.395,"u":1.0785},
      {"s":"36","t":5.409,"u":1.082},{"s":"36","t":5.419,"u":1.0756},{"s":"36","t":5.428,"u":1.0873},{"s":"36","t":5.438,"u":1.0751},
      {"s":"36","t":5.448,"u":1.0839},{"s":"36","t":5.491,"u":1.0853},{"s":"36","t":5.54,"u":1.0829},{"s":"36","t":5.578,"u":1.0878},
      {"s":"36","t":5.588,"u":1.0776},{"s":"36","t":5.617,"u":1.081},{"s":"36","t":5.666,"u":1.08},{"s":"36","t":5.714,"u":1.0785},
      {"s":"36","t":5.762,"u":1.0805},{"s":"36","t":5.864,"u":1.0883},{"s":"36","t":5.869,"u":1.0776},{"s":"36","t":5.927,"u":1.0795},
      {"s":"36","t":5.961,"u":1.0766},{"s":"36","t":5.966,"u":1.0878},{"s":"36","t":5.995,"u":1.0878},{"s":"36","t":6.0,"u":1.078},
      {"s":"36","t":6.042,"u":1.078},{"s":"36","t":6.096,"u":1.0766},{"s":"36","t":6.5,"u":1.079},{"s":"36","t":6.93,"u":1.0776}
    ]
  },
  "layer": [
    {
      "data": {"name": "voltage"},
      "mark": {"type": "line", "strokeWidth": 3.8},
      "encoding": {
        "x": {
          "field": "t",
          "type": "quantitative",
          "scale": {"domain": [0, 6.93], "nice": false, "zero": false},
          "axis": {
            "orient": "bottom",
            "values": [0, 1, 2, 3, 4, 5, 6],
            "format": "d",
            "grid": false,
            "labelFontSize": 58,
            "labelColor": "#262626",
            "labelPadding": 71,
            "labelFlush": false,
            "tickSize": -30,
            "tickWidth": 3,
            "tickColor": "#262626",
            "domainColor": "#262626",
            "domainWidth": 3,
            "title": "t, days",
            "titleFontSize": 68,
            "titleFontWeight": "normal",
            "titleColor": "#262626",
            "titleBaseline": "alphabetic",
            "titleY": 184
          }
        },
        "y": {
          "field": "u",
          "type": "quantitative",
          "scale": {"domain": [0.95, 1.1], "nice": false, "zero": false},
          "axis": {
            "orient": "left",
            "values": [0.95, 1, 1.05, 1.1],
            "format": "~g",
            "grid": false,
            "labelFontSize": 58,
            "labelColor": "#262626",
            "labelPadding": 59,
            "labelFlush": false,
            "tickSize": -30,
            "tickWidth": 3,
            "tickColor": "#262626",
            "domainColor": "#262626",
            "domainWidth": 3,
            "title": "U, p.u.",
            "titleFontSize": 67,
            "titleFontWeight": "normal",
            "titleColor": "#262626",
            "titleBaseline": "alphabetic",
            "titleX": -182
          }
        },
        "color": {
          "field": "s",
          "type": "nominal",
          "scale": {
            "domain": ["2", "23", "30", "32", "36"],
            "range": ["#0072BD", "#D95319", "#77AC30", "#4DBEEE", "#A2142F"]
          },
          "legend": {
            "title": null,
            "orient": "none",
            "legendX": 2410,
            "legendY": 15,
            "direction": "vertical",
            "symbolType": "stroke",
            "symbolSize": 34596,
            "symbolStrokeWidth": 3.5,
            "symbolOffset": 18,
            "clipHeight": 62,
            "rowPadding": 16,
            "padding": 18,
            "labelFontSize": 56,
            "labelColor": "#262626",
            "labelOffset": 18,
            "strokeColor": "#262626",
            "fillColor": "white"
          }
        },
        "order": {"value": null}
      }
    },
    {
      "data": {"name": "voltage"},
      "mark": {"type": "line", "opacity": 0},
      "encoding": {
        "x": {
          "field": "t",
          "type": "quantitative",
          "axis": {
            "orient": "top",
            "values": [0, 1, 2, 3, 4, 5, 6],
            "labels": false,
            "title": null,
            "grid": false,
            "tickSize": -30,
            "tickWidth": 3,
            "tickColor": "#262626",
            "domainColor": "#262626",
            "domainWidth": 3
          }
        },
        "y": {
          "field": "u",
          "type": "quantitative",
          "axis": {
            "orient": "right",
            "values": [0.95, 1, 1.05, 1.1],
            "labels": false,
            "title": null,
            "grid": false,
            "tickSize": -30,
            "tickWidth": 3,
            "tickColor": "#262626",
            "domainColor": "#262626",
            "domainWidth": 3
          }
        },
        "detail": {"field": "s"},
        "order": {"value": null}
      }
    },
    {
      "data": {"name": "limits"},
      "mark": {"type": "rule", "color": "#FF0000", "strokeWidth": 6},
      "encoding": {
        "y": {"field": "limit", "type": "quantitative", "axis": null}
      }
    }
  ],
  "resolve": {"axis": {"x": "independent", "y": "independent"}}
}
